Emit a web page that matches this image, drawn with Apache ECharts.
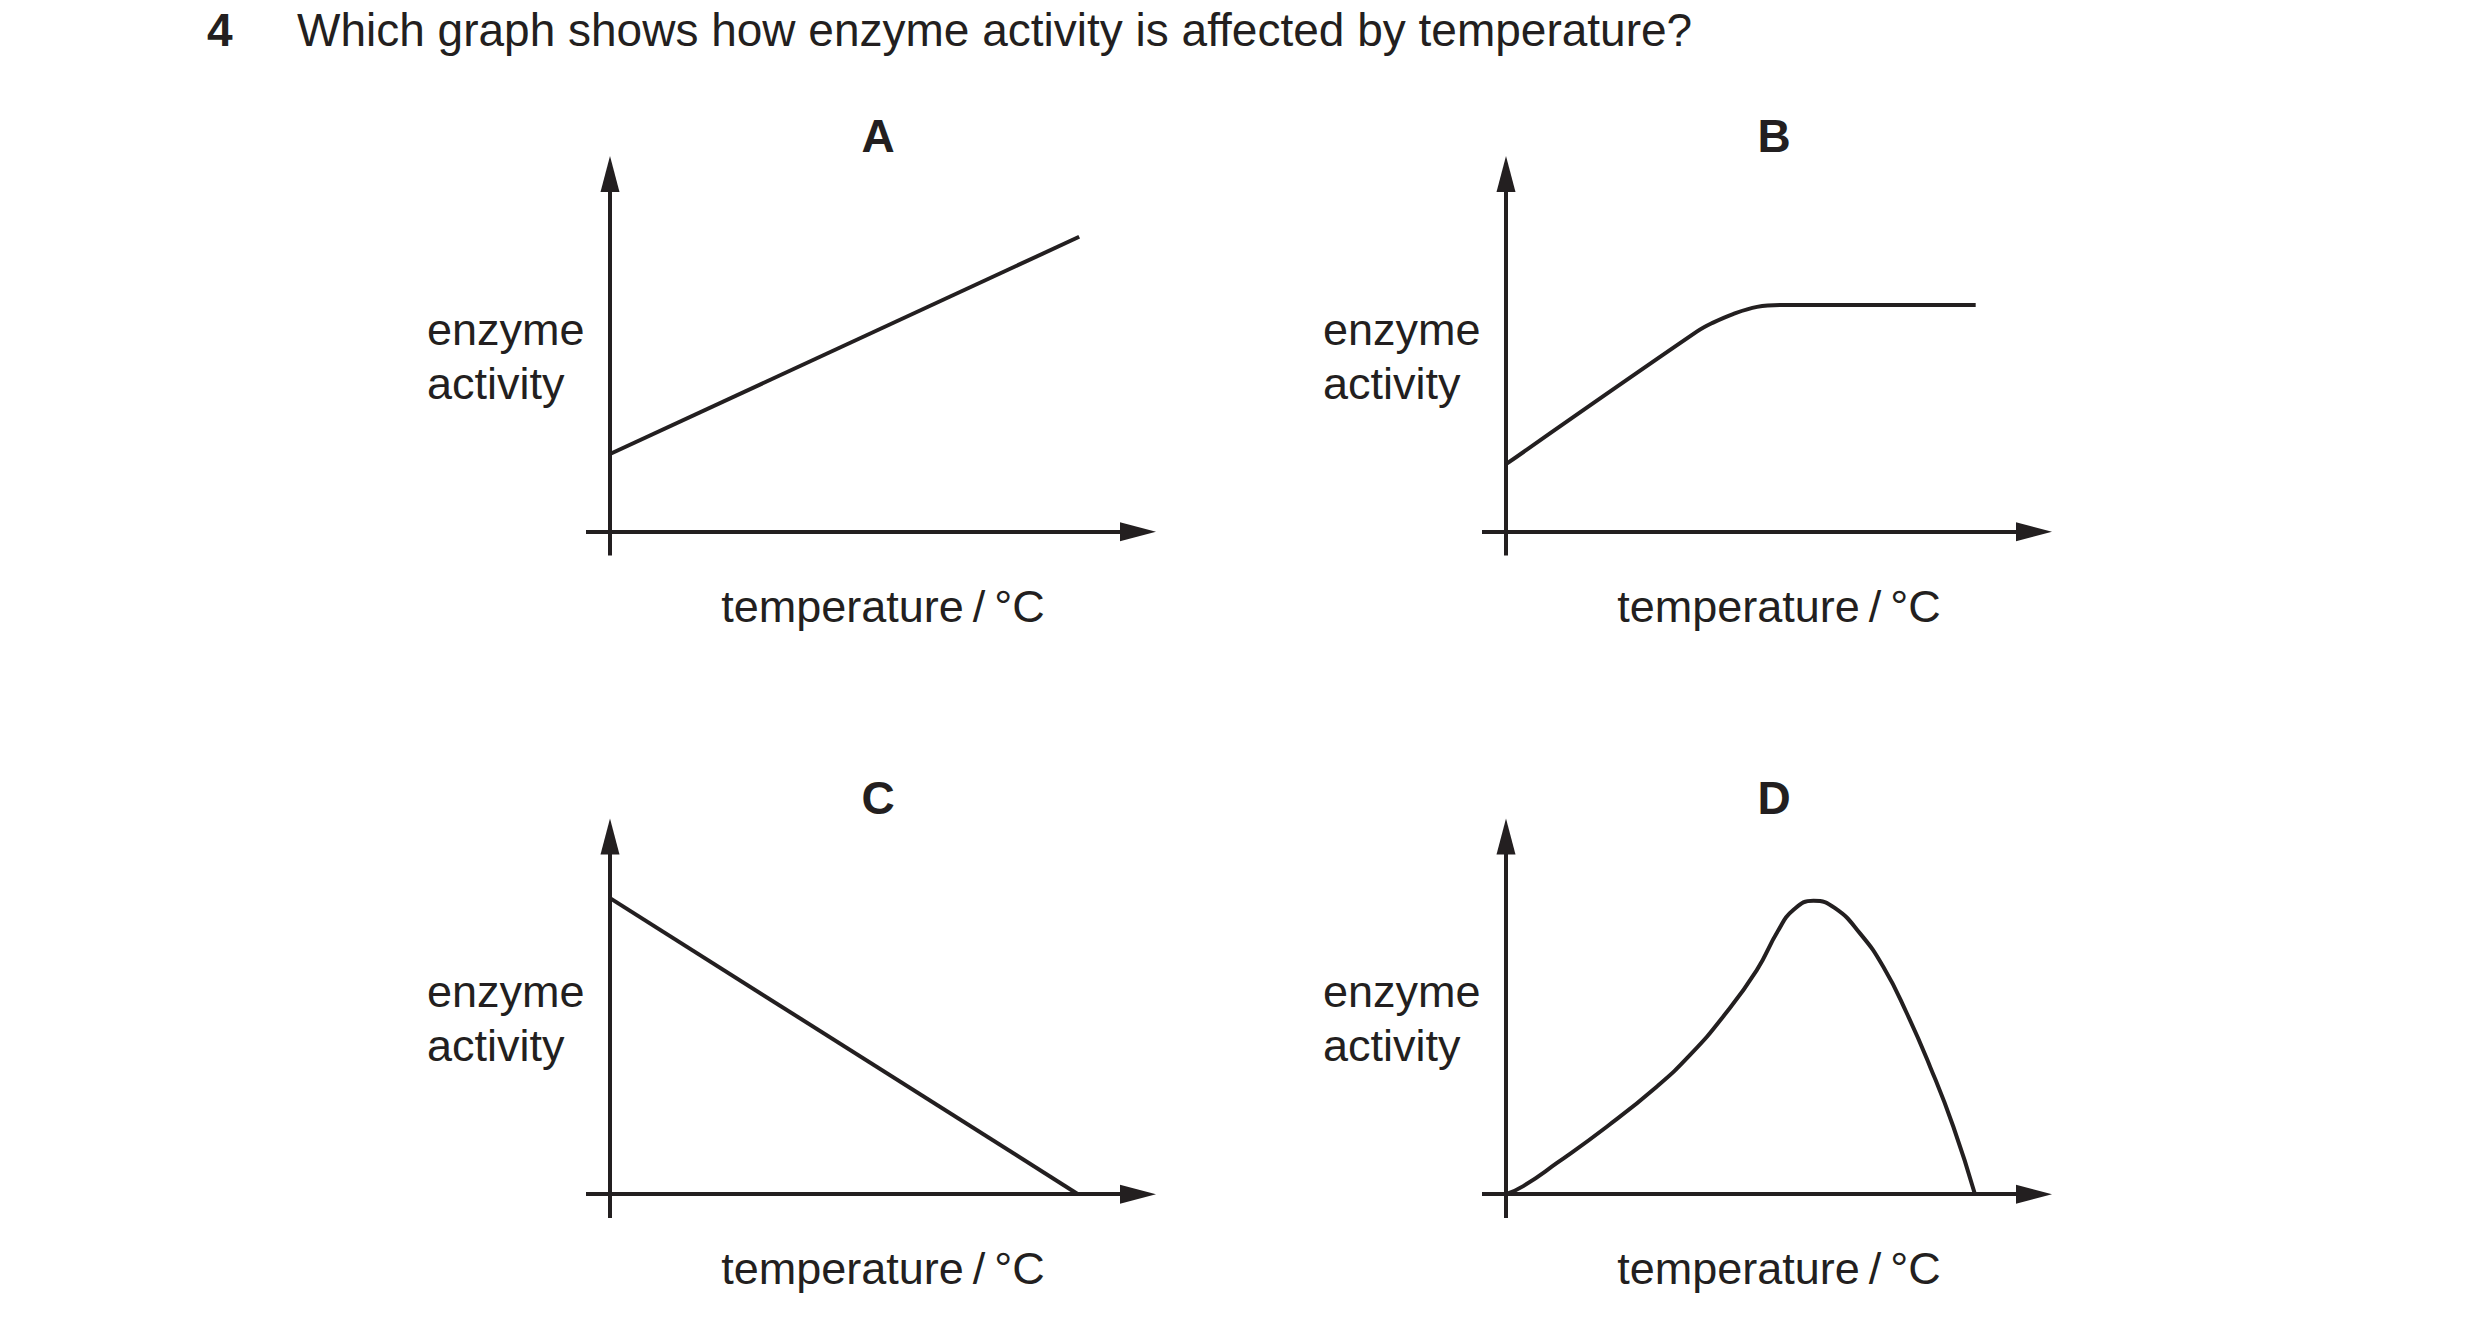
<!DOCTYPE html>
<html>
<head>
<meta charset="utf-8">
<script src="https://cdn.jsdelivr.net/npm/echarts/dist/echarts.min.js"></script>
<style>
html,body{margin:0;padding:0;background:#ffffff;}
#chart{width:2480px;height:1333px;}
</style>
</head>
<body>
<div id="chart"></div>
<script>
// ---- text ----
const questionNumber = '4';
const questionText = 'Which graph shows how enzyme activity is affected by temperature?';
const panelLetters = ['A', 'B', 'C', 'D'];
const yAxisLabel = ['enzyme', 'activity'];
const xAxisLabel = 'temperature\u2009/\u2009°C';

// ---- data (arbitrary units, read from the sketches) ----
const seriesA = [[0, 3.26], [19.55, 12.37]];
const seriesB = [[0, 2.83], [7.95, 8.39], [8.63, 8.77], [9.46, 9.13], [10.46, 9.43], [11.42, 9.51], [13.0, 9.51], [19.57, 9.51]];
const seriesC = [[0, 12.42], [19.5, 0]];
const seriesD = [[0, 0], [0.72, 0.34], [2.11, 1.30], [4.20, 2.83], [6.28, 4.51], [7.67, 5.84], [9.05, 7.45], [10.45, 9.40],
                 [11.33, 11.04], [11.97, 11.92], [12.81, 12.31], [13.71, 12.00], [14.75, 10.94], [15.72, 9.54],
                 [16.70, 7.59], [17.67, 5.35], [18.64, 2.83], [19.54, 0]];
const xRange = [-1, 22];
const yRange = [-1, 15];

// ---- layout ----
const INK = '#231f20';
const FONT = "'Liberation Sans', Arial, Helvetica, sans-serif";
const unitX = 24, unitY = 23.84;
const origins = [[610, 531.7], [1506, 531.7], [610, 1194.2], [1506, 1194.2]];
const allSeries = [seriesA, seriesB, seriesC, seriesD];
const smoothFlags = [false, 0.4, false, 0.5];

const grids = [], xAxes = [], yAxes = [], series = [], graphics = [];
origins.forEach(function (o, i) {
  grids.push({
    left: o[0] - unitX * (0 - xRange[0]),
    top: o[1] - unitY * yRange[1],
    width: unitX * (xRange[1] - xRange[0]),
    height: unitY * (yRange[1] - yRange[0]),
    containLabel: false,
    outerBoundsMode: 'none'
  });
  const axisLine = {
    show: true, onZero: true,
    symbol: ['none', 'triangle'], symbolSize: [19, 36],
    lineStyle: { color: INK, width: 4, cap: 'butt' }
  };
  xAxes.push({ type: 'value', gridIndex: i, min: xRange[0], max: xRange[1],
    axisLine: axisLine, axisTick: { show: false }, axisLabel: { show: false }, splitLine: { show: false } });
  yAxes.push({ type: 'value', gridIndex: i, min: yRange[0], max: yRange[1],
    axisLine: axisLine, axisTick: { show: false }, axisLabel: { show: false }, splitLine: { show: false } });
  series.push({
    type: 'line', xAxisIndex: i, yAxisIndex: i, data: allSeries[i],
    symbol: 'none', smooth: smoothFlags[i], silent: true,
    lineStyle: { color: INK, width: 4, cap: 'butt', join: 'round' }
  });

  // panel letter
  graphics.push({ type: 'text', x: o[0] + 268, y: o[1] - 396,
    style: { text: panelLetters[i], fill: INK, font: 'bold 46px ' + FONT, align: 'center', verticalAlign: 'middle' } });
  // y label
  graphics.push({ type: 'text', x: o[0] - 183, y: o[1] - 202.3,
    style: { text: yAxisLabel[0], fill: INK, font: '45px ' + FONT, align: 'left', verticalAlign: 'middle' } });
  graphics.push({ type: 'text', x: o[0] - 183, y: o[1] - 148.3,
    style: { text: yAxisLabel[1], fill: INK, font: '45px ' + FONT, align: 'left', verticalAlign: 'middle' } });
  // x label
  graphics.push({ type: 'text', x: o[0] + 273, y: o[1] + 74.7,
    style: { text: xAxisLabel, fill: INK, font: '45px ' + FONT, align: 'center', verticalAlign: 'middle' } });
});

graphics.push({ type: 'text', x: 207, y: 30,
  style: { text: questionNumber, fill: INK, font: 'bold 46px ' + FONT, align: 'left', verticalAlign: 'middle' } });
graphics.push({ type: 'text', x: 297, y: 30,
  style: { text: questionText, fill: INK, font: '46px ' + FONT, align: 'left', verticalAlign: 'middle' } });

const chart = echarts.init(document.getElementById('chart'), null, { renderer: 'svg', width: 2480, height: 1333 });
chart.setOption({
  backgroundColor: '#ffffff',
  animation: false,
  grid: grids,
  xAxis: xAxes,
  yAxis: yAxes,
  series: series,
  graphic: graphics
});
</script>
</body>
</html>
